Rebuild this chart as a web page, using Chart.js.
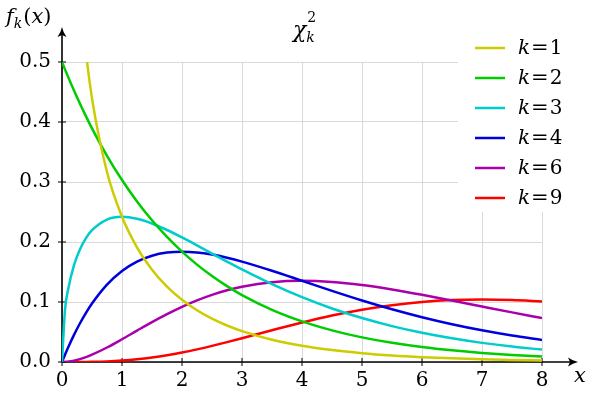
<!DOCTYPE html>
<html>
<head>
<meta charset="utf-8">
<script src="https://cdn.jsdelivr.net/npm/chart.js@4.4.1/dist/chart.umd.min.js"></script>
<style>
html,body{margin:0;padding:0;background:#fff;}
#wrap{width:600px;height:400px;}
</style>
</head>
<body>
<div id="wrap"><canvas id="c" width="600" height="400"></canvas></div>
<script>
// x positions sampled
const xs = [0, 0.05, 0.1, 0.2, 0.3, 0.4, 0.5, 0.75, 1, 1.25, 1.5, 1.75, 2, 2.25, 2.5, 2.75, 3, 3.5, 4, 4.5, 5, 5.5, 6, 6.5, 7, 7.5, 8];
const seriesLabels = ['1', '2', '3', '4', '6', '9'];
const k1 = [null, null, null, 0.8072, 0.6269, 0.5164, 0.4394, 0.3166, 0.2420, 0.1910, 0.1539, 0.1257, 0.1038, 0.08635, 0.07229, 0.06083, 0.05139, 0.03705, 0.02700, 0.01982, 0.01464, 0.01087, 0.00811, 0.00607, 0.00455, 0.00343, 0.00258];
const k2 = [0.5, 0.48766, 0.47562, 0.45242, 0.43036, 0.40937, 0.38940, 0.34365, 0.30327, 0.26763, 0.23619, 0.20843, 0.18394, 0.16233, 0.14325, 0.12642, 0.11157, 0.08689, 0.06767, 0.05270, 0.04104, 0.03196, 0.02489, 0.01939, 0.01510, 0.01176, 0.00916];
const k3 = [0, 0.08700, 0.12000, 0.16144, 0.18807, 0.20656, 0.21970, 0.23745, 0.24197, 0.23874, 0.23080, 0.22000, 0.20755, 0.19428, 0.18072, 0.16727, 0.15419, 0.12969, 0.10798, 0.08920, 0.07322, 0.05981, 0.04865, 0.03944, 0.03187, 0.02569, 0.02067];
const k4 = [0, 0.01219, 0.02378, 0.04524, 0.06455, 0.08187, 0.09735, 0.12887, 0.15163, 0.16727, 0.17714, 0.18238, 0.18394, 0.18262, 0.17906, 0.17383, 0.16735, 0.15205, 0.13534, 0.11858, 0.10261, 0.08790, 0.07468, 0.06301, 0.05284, 0.04410, 0.03663];
const k6 = [0, 0.000152, 0.000595, 0.002262, 0.004842, 0.008187, 0.012169, 0.024162, 0.037908, 0.052271, 0.066427, 0.079789, 0.09197, 0.10272, 0.11191, 0.11951, 0.12551, 0.13304, 0.13534, 0.13340, 0.12826, 0.12086, 0.11202, 0.10239, 0.09248, 0.08268, 0.07326];
const k9 = [0, 0, 0.000001, 0.0000123, 0.0000484, 0.000126, 0.000262, 0.000954, 0.002305, 0.004441, 0.007419, 0.011229, 0.015814, 0.021076, 0.026893, 0.033132, 0.039647, 0.052960, 0.065821, 0.077413, 0.087175, 0.094774, 0.100087, 0.103150, 0.104121, 0.103239, 0.100781];
const yTicks = [0, 0.1, 0.2, 0.3, 0.4, 0.5];
const xTicks = [0, 1, 2, 3, 4, 5, 6, 7, 8];

const allSeries = [k1, k2, k3, k4, k6, k9];
const colors = ['#cccc00', '#00cc00', '#00cccc', '#0000dd', '#aa00aa', '#ff0000'];
const FONT = '"DejaVu Serif", serif';

const datasets = allSeries.map((s, i) => ({
  label: 'k=' + seriesLabels[i],
  data: xs.map((x, j) => ({x: x, y: s[j]})).filter(p => p.y !== null),
  borderColor: colors[i],
  backgroundColor: colors[i],
  borderWidth: 2.5,
  pointRadius: 0,
  showLine: true,
  cubicInterpolationMode: 'monotone',
  fill: false
}));

function arrowHead(ctx, x, y, dir) {
  ctx.beginPath();
  if (dir === 'right') {
    ctx.moveTo(x, y);
    ctx.quadraticCurveTo(x - 5, y - 1, x - 10, y - 4.5);
    ctx.lineTo(x - 8, y);
    ctx.lineTo(x - 10, y + 4.5);
    ctx.quadraticCurveTo(x - 5, y + 1, x, y);
  } else {
    ctx.moveTo(x, y);
    ctx.quadraticCurveTo(x - 1, y + 5, x - 4.5, y + 10);
    ctx.lineTo(x, y + 8);
    ctx.lineTo(x + 4.5, y + 10);
    ctx.quadraticCurveTo(x + 1, y + 5, x, y);
  }
  ctx.closePath();
  ctx.fill();
}

const decor = {
  id: 'decor',
  beforeDatasetsDraw(chart) {
    const ctx = chart.ctx;
    const xs_ = chart.scales.x, ys_ = chart.scales.y;
    const x0 = xs_.getPixelForValue(0), y0 = ys_.getPixelForValue(0);
    ctx.save();
    ctx.strokeStyle = '#000';
    ctx.fillStyle = '#000';
    ctx.lineWidth = 1.6;
    ctx.beginPath(); ctx.moveTo(x0, y0); ctx.lineTo(572, y0); ctx.stroke();
    arrowHead(ctx, 578, y0, 'right');
    ctx.beginPath(); ctx.moveTo(x0, y0); ctx.lineTo(x0, 33); ctx.stroke();
    arrowHead(ctx, x0, 27, 'up');
    ctx.lineWidth = 1;
    xTicks.forEach(v => {
      const p = xs_.getPixelForValue(v);
      ctx.beginPath(); ctx.moveTo(p, y0 - 4); ctx.lineTo(p, y0 + 4); ctx.stroke();
    });
    yTicks.forEach(v => {
      const p = ys_.getPixelForValue(v);
      ctx.beginPath(); ctx.moveTo(x0 - 4, p); ctx.lineTo(x0 + 4, p); ctx.stroke();
    });
    ctx.textBaseline = 'alphabetic';
    ctx.textAlign = 'left';
    ctx.font = 'italic 21px ' + FONT;
    ctx.fillText('x', 574, 382);
    let px = 6;
    ctx.font = 'italic 21px ' + FONT;
    ctx.fillText('f', px, 23); px += ctx.measureText('f').width;
    ctx.font = 'italic 14px ' + FONT;
    ctx.fillText('k', px, 28); px += ctx.measureText('k').width + 1;
    ctx.font = '21px ' + FONT;
    ctx.fillText('(', px, 23); px += ctx.measureText('(').width;
    ctx.font = 'italic 21px ' + FONT;
    ctx.fillText('x', px, 23); px += ctx.measureText('x').width;
    ctx.font = '21px ' + FONT;
    ctx.fillText(')', px, 23);
    ctx.font = 'italic 22px ' + FONT;
    ctx.fillText('\u03C7', 293, 37);
    const cw = ctx.measureText('\u03C7').width;
    ctx.font = '14px ' + FONT;
    ctx.fillText('2', 293 + cw + 1, 22);
    ctx.font = 'italic 14px ' + FONT;
    ctx.fillText('k', 293 + cw, 42);
    ctx.restore();
  },
  afterDatasetsDraw(chart) {
    const ctx = chart.ctx;
    ctx.save();
    ctx.fillStyle = '#fff';
    ctx.fillRect(458, 30, 120, 182);
    chart.data.datasets.forEach((ds, i) => {
      const y = 48 + i * 30;
      ctx.strokeStyle = ds.borderColor;
      ctx.lineWidth = 2.5;
      ctx.beginPath(); ctx.moveTo(475, y); ctx.lineTo(505, y); ctx.stroke();
      ctx.fillStyle = '#000';
      ctx.textBaseline = 'middle';
      ctx.textAlign = 'left';
      let px = 518;
      ctx.font = 'italic 20px ' + FONT;
      ctx.fillText('k', px, y + 1); px += ctx.measureText('k').width + 1;
      ctx.font = '21px ' + FONT;
      ctx.fillText('=', px, y + 1); px += ctx.measureText('=').width + 1;
      ctx.font = '20px ' + FONT;
      ctx.fillText(seriesLabels[i], px, y + 1);
    });
    ctx.restore();
  }
};

new Chart(document.getElementById('c'), {
  type: 'scatter',
  data: { datasets: datasets },
  options: {
    responsive: false,
    animation: false,
    devicePixelRatio: 1,
    layout: { padding: { left: 0, top: 62, right: 58, bottom: 0 } },
    plugins: { legend: { display: false }, tooltip: { enabled: false }, title: { display: false } },
    scales: {
      x: {
        type: 'linear', min: 0, max: 8,
        afterBuildTicks: s => { s.ticks = xTicks.map(v => ({value: v})); },
        afterFit: s => { s.height = 38; },
        grid: { color: '#d0d0d0', lineWidth: 0.8, drawTicks: false },
        border: { display: false },
        ticks: { color: '#000', padding: 7, font: { family: FONT, size: 20 }, maxRotation: 0, callback: v => String(v) }
      },
      y: {
        type: 'linear', min: 0, max: 0.5,
        afterBuildTicks: s => { s.ticks = yTicks.map(v => ({value: v})); },
        afterFit: s => { s.width = 62; },
        grid: { color: '#d0d0d0', lineWidth: 0.8, drawTicks: false },
        border: { display: false },
        ticks: { color: '#000', padding: 11, font: { family: FONT, size: 20 }, callback: v => v.toFixed(1) }
      }
    }
  },
  plugins: [decor]
});
</script>
</body>
</html>
